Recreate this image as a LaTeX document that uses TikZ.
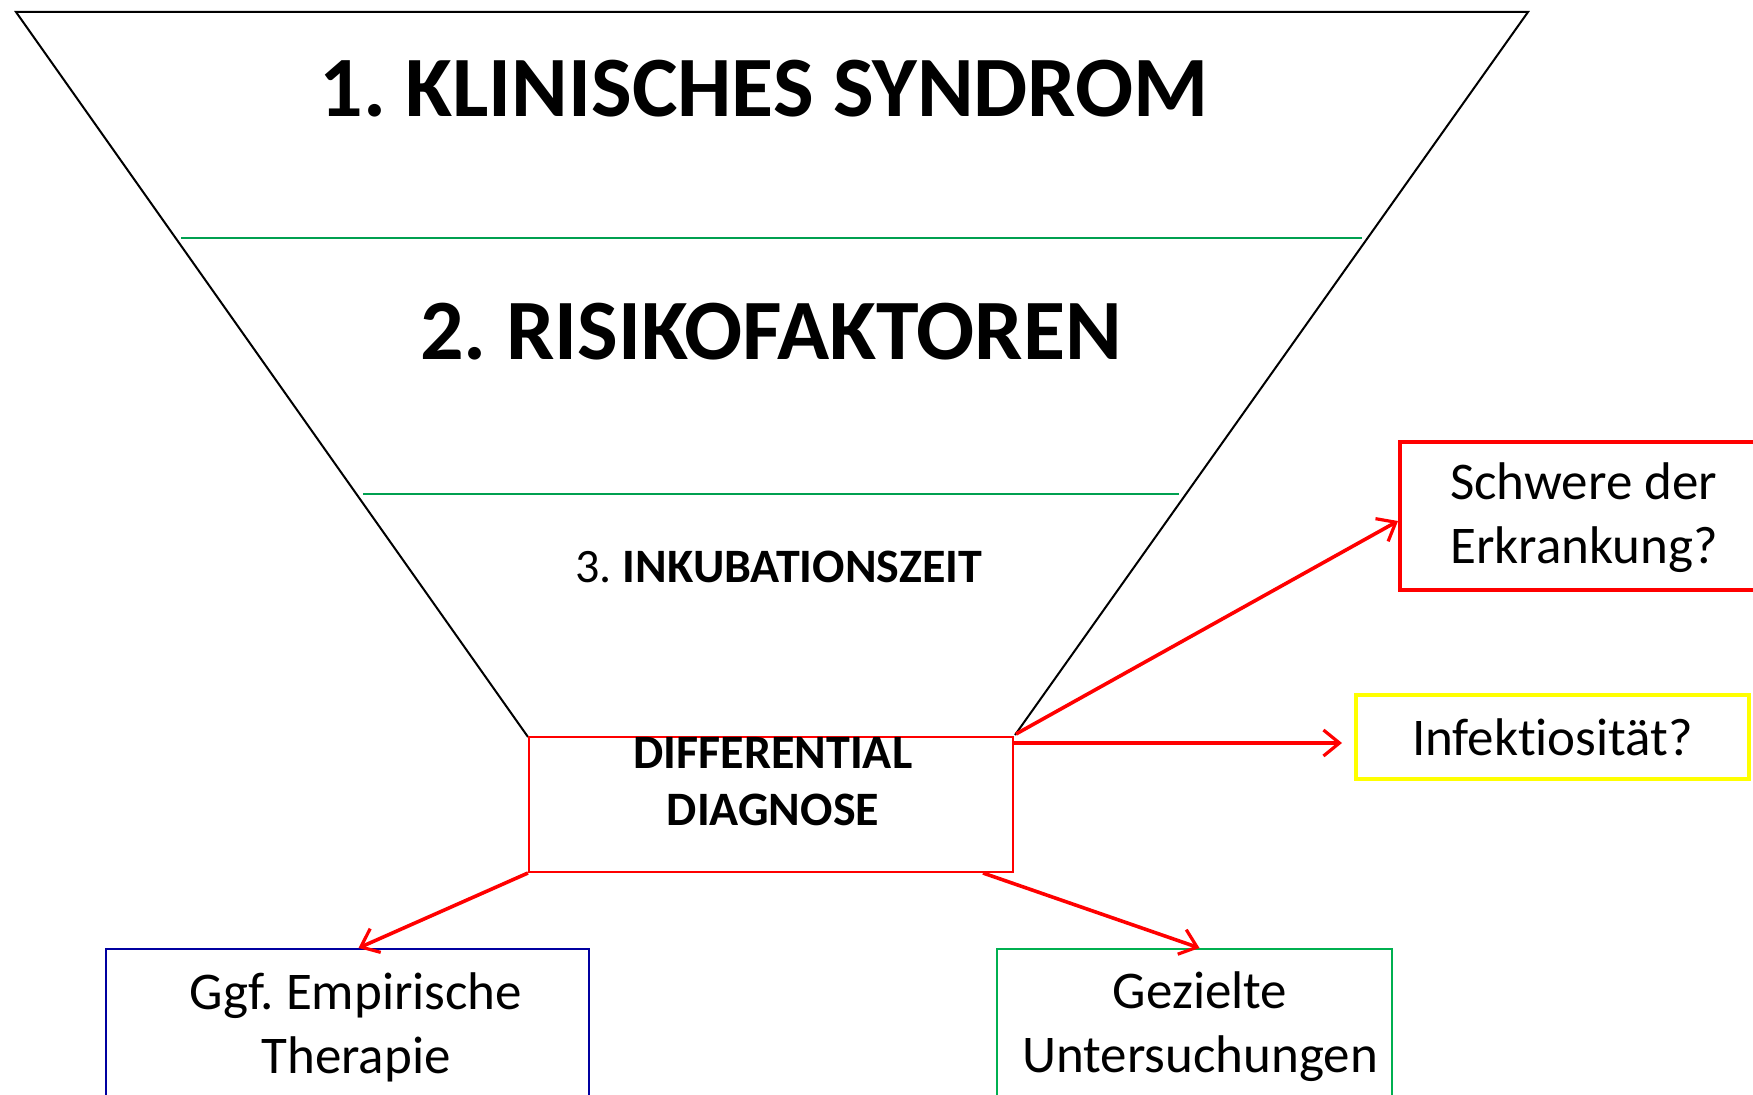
\documentclass[tikz,border=0pt]{standalone}
\usepackage{fontspec}
\setmainfont{Carlito}[Ligatures=NoCommon]
\usetikzlibrary{arrows.meta,calc}
\definecolor{sepgreen}{HTML}{00A050}
\definecolor{boxgreen}{HTML}{00B050}
\definecolor{boxblue}{HTML}{0000A0}
\definecolor{boxyellow}{HTML}{FFFF00}
\frenchspacing
\begin{document}
\begin{tikzpicture}[x=0.5pt,y=-0.5pt,
  funnel/.style={draw=black,line width=1pt,line join=miter},
  sepline/.style={draw=sepgreen,line width=0.6pt},
  arr/.style={draw=red,line width=1.8pt,-{Straight Barb[length=8pt,width=13pt,line width=1.6pt]}},
  bigtitle/.style={font=\fontsize{43}{50}\selectfont\bfseries,inner sep=0pt},
  boxtext/.style={font=\fontsize{26.5}{32}\selectfont,align=center,inner sep=0pt}
]
\clip (0,0) rectangle (1753,1095);
\fill[white] (0,0) rectangle (1753,1095);

% funnel
\coordinate (tl) at (16,12);
\coordinate (tr) at (1528,12);
\coordinate (bl) at (528,737);
\coordinate (br) at (1015,735);
\draw[funnel] (bl) -- (tl) -- (tr) -- (br);

% separators
\coordinate (s1a) at (181,238);
\coordinate (s1b) at (1362,238);
\coordinate (s2a) at (363,494);
\coordinate (s2b) at (1179,494);
\draw[sepline] (s1a) -- (s1b);
\draw[sepline] (s2a) -- (s2b);

% titles
\node[bigtitle] (t1) at (764,89) {1. KLINISCHES SYNDROM};
\node[bigtitle] (t2) at (771,332) {2. RISIKOFAKTOREN};
\node[font=\fontsize{24}{28}\selectfont,inner sep=0pt] (t3) at (779,567) {3. \textbf{INKUBATIONSZEIT}};

% differential diagnose box
\node[draw=red,line width=1pt,minimum width=242pt,minimum height=67.5pt,inner sep=0pt] (dd) at (771,804.5) {};
\node[font=\fontsize{24}{28.5}\selectfont\bfseries,align=center,inner sep=0pt] (ddtext) at (773,782) {DIFFERENTIAL\\DIAGNOSE};

% right boxes
\node[draw=red,line width=2pt,minimum width=195pt,minimum height=74pt,inner sep=0pt] (schwere) at (1595,516) {};
\node[boxtext,align=left] (schweretext) at (1584,518) {Schwere der\\Erkrankung?};
\node[draw=boxyellow,line width=2pt,minimum width=196.5pt,minimum height=42pt,boxtext] (infek) at (1552.5,737) {Infektiosität?};

% bottom boxes
\node[draw=boxblue,line width=1pt,minimum width=241.5pt,minimum height=75.5pt,inner sep=0pt] (ggf) at (347.5,1024.5) {};
\node[boxtext] (ggftext) at (356,1027) {Ggf. Empirische\\Therapie};
\node[draw=boxgreen,line width=1pt,minimum width=197.5pt,minimum height=75.5pt,inner sep=0pt] (gez) at (1194.5,1024.5) {};
\node[boxtext] (geztext) at (1200,1027) {Gezielte\\Untersuchungen};

% arrows
\coordinate (a1) at ($(dd.north east)+(2,-2)$);
\coordinate (a2) at ($(dd.north east)+(0,7)$);
\coordinate (a3) at (dd.south west);
\coordinate (a4) at ($(dd.south east)+(-31,0)$);
\draw[arr] (a1) -- ($(schwere.west)+(0,5)$);
\draw[arr,shorten >=6pt] (a2) -- (a2 -| infek.west);
\draw[arr] (a3) -- ($(ggf.north)+(11,0)$);
\draw[arr] (a4) -- ($(gez.north)+(5,0)$);
\end{tikzpicture}
\end{document}
